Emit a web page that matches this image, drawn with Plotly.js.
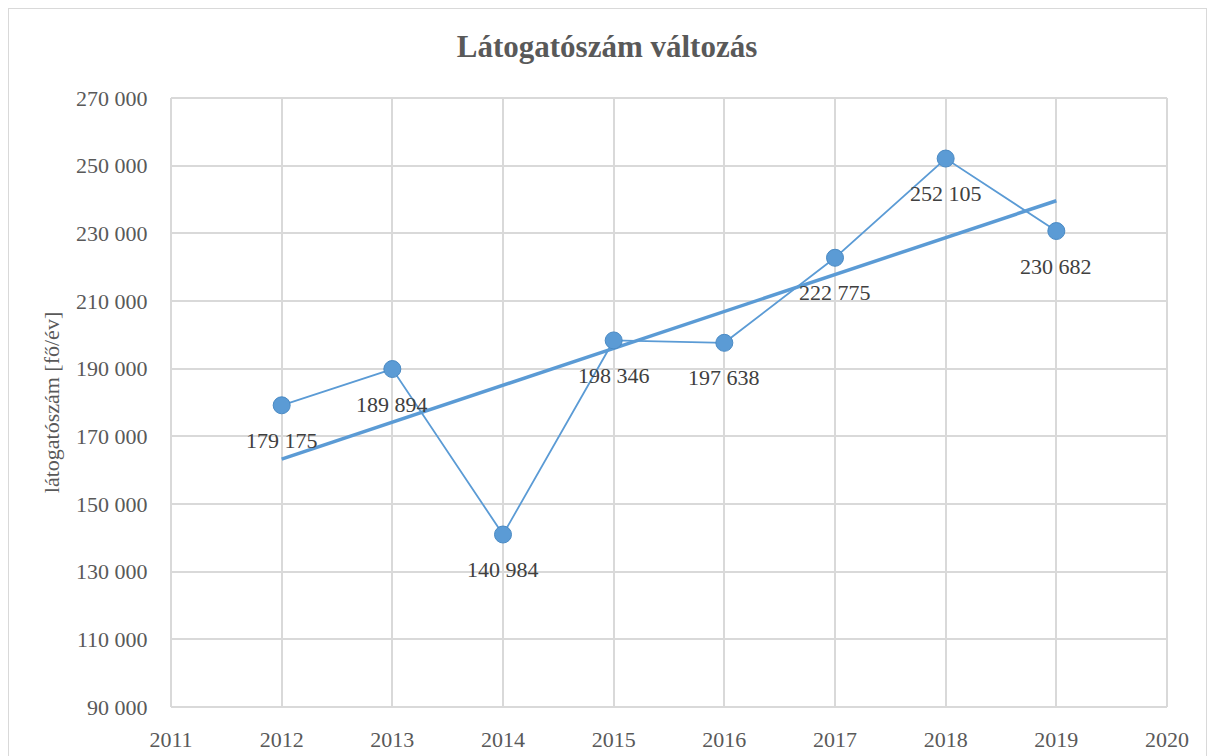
<!DOCTYPE html>
<html><head><meta charset="utf-8">
<script src="https://cdn.plot.ly/plotly-3.0.1.min.js"></script>
<style>
html,body{margin:0;padding:0;background:#fff;}
#wrap{position:relative;width:1214px;height:756px;}
#chart{width:1214px;height:756px;}
#frame{position:absolute;left:8px;top:8px;width:1197px;height:760px;border:1.5px solid #d9d9d9;pointer-events:none;}
</style></head>
<body>
<div id="wrap"><div id="chart"></div><div id="frame"></div></div>
<script>
const years = [2012, 2013, 2014, 2015, 2016, 2017, 2018, 2019];
const visitors = [179175, 189894, 140984, 198346, 197638, 222775, 252105, 230682];
const yTicks = [90000, 110000, 130000, 150000, 170000, 190000, 210000, 230000, 250000, 270000];
const xTicks = [2011, 2012, 2013, 2014, 2015, 2016, 2017, 2018, 2019, 2020];
const titleText = 'Látogatószám változás';
const yTitle = 'látogatószám [fő/év]';

function fmt(v){ return String(v).replace(/\B(?=(\d{3})+(?!\d))/g, ' '); }

// linear trend (least squares) over the data
const n = years.length;
const mx = years.reduce((a,b)=>a+b,0)/n;
const my = visitors.reduce((a,b)=>a+b,0)/n;
let sxy=0, sxx=0;
for (let i=0;i<n;i++){ sxy += (years[i]-mx)*(visitors[i]-my); sxx += (years[i]-mx)**2; }
const slope = sxy/sxx, icpt = my - slope*mx;
const trendX = [years[0], years[n-1]];
const trendY = trendX.map(x => icpt + slope*x);

const font = '"Liberation Serif", "Times New Roman", serif';
const blue = '#5B9BD5';

const traces = [
  {x: trendX, y: trendY, mode: 'lines', line: {color: blue, width: 3.5}, hoverinfo: 'skip', showlegend: false},
  {x: years, y: visitors, mode: 'lines+markers',
   line: {color: blue, width: 1.8},
   marker: {color: blue, size: 17, line: {color: '#4a8ac4', width: 1}},
   showlegend: false}
];

const annotations = years.map((x,i)=>({
  x: x, y: visitors[i], xref: 'x', yref: 'y', text: fmt(visitors[i]),
  showarrow: false, yshift: -35, font: {family: font, size: 22, color: '#404040'}
}));

const layout = {
  width: 1214, height: 756,
  margin: {l: 171, r: 47, t: 98, b: 49},
  paper_bgcolor: '#fff', plot_bgcolor: '#fff',
  font: {family: font},
  title: {text: '<b>' + titleText + '</b>', x: 0.5, xanchor: 'center', y: 0.939, yanchor: 'middle',
          font: {family: font, size: 31, color: '#595959'}},
  xaxis: {range: [2011, 2020], tickvals: xTicks, ticktext: xTicks.map(String),
          showgrid: true, gridcolor: '#d9d9d9', gridwidth: 2, zeroline: false,
          showline: false, ticks: 'outside', ticklen: 13, tickcolor: 'rgba(0,0,0,0)',
          tickfont: {family: font, size: 22, color: '#595959'}, fixedrange: true},
  yaxis: {range: [90000, 270000], tickvals: yTicks, ticktext: yTicks.map(fmt),
          showgrid: true, gridcolor: '#d9d9d9', gridwidth: 2, zeroline: false,
          showline: false, ticks: 'outside', ticklen: 18, tickcolor: 'rgba(0,0,0,0)',
          tickfont: {family: font, size: 22, color: '#595959'},
          title: {text: yTitle, font: {family: font, size: 22, color: '#595959'}, standoff: 10}, fixedrange: true},
  annotations: annotations,
  shapes: [
    {type: 'line', xref: 'paper', yref: 'paper', x0: 1, x1: 1, y0: 0, y1: 1, line: {color: '#d9d9d9', width: 2}},
    {type: 'line', xref: 'paper', yref: 'paper', x0: 0, x1: 1, y0: 1, y1: 1, line: {color: '#d9d9d9', width: 2}},
    {type: 'line', xref: 'paper', yref: 'paper', x0: 0, x1: 1, y0: 0, y1: 0, line: {color: '#d9d9d9', width: 2}},
    {type: 'line', xref: 'paper', yref: 'paper', x0: 0, x1: 0, y0: 0, y1: 1, line: {color: '#d9d9d9', width: 2}}
  ]
};

Plotly.newPlot('chart', traces, layout, {displayModeBar: false, staticPlot: true});
</script>
</body></html>
